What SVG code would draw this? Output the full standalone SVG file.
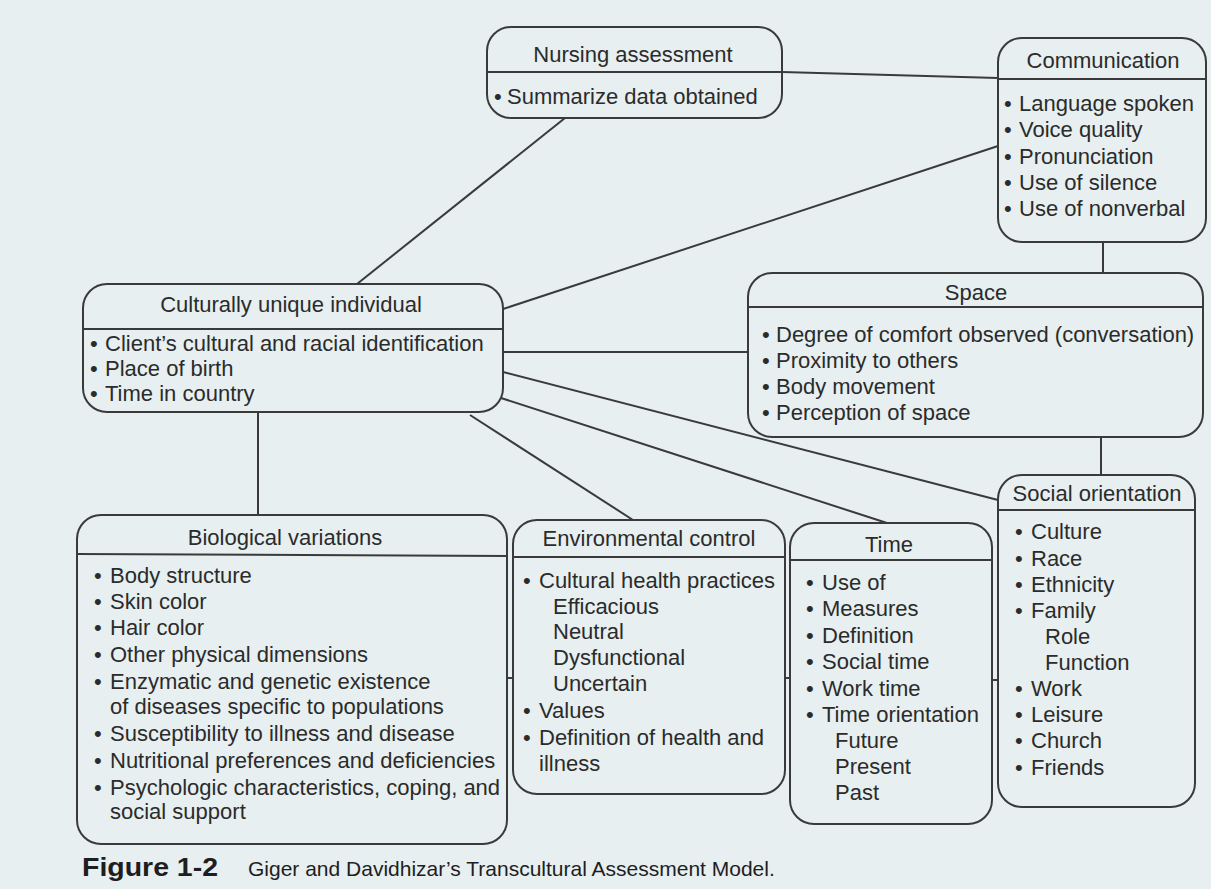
<svg xmlns="http://www.w3.org/2000/svg" width="1211" height="889" viewBox="0 0 1211 889">
<style>
.bg{fill:#e7eff0}
.box{fill:none;stroke:#3a3a3a;stroke-width:2}
.div{stroke:#3a3a3a;stroke-width:2}
.con{stroke:#3a3a3a;stroke-width:2;fill:none}
text{font-family:"Liberation Sans",Arial,sans-serif;fill:#2b2b2b;font-size:22px}
.t{text-anchor:middle}
.cap{font-size:21px;fill:#1e1e1e}
.capb{font-size:26px;font-weight:bold;fill:#1e1e1e}
</style>
<rect class="bg" x="0" y="0" width="1211" height="889"/>

<g id="connectors">
<line class="con" x1="565" y1="118" x2="357" y2="284"/>
<line class="con" x1="782" y1="72" x2="998" y2="78"/>
<line class="con" x1="998" y1="146" x2="503" y2="309"/>
<line class="con" x1="503" y1="352" x2="748" y2="352"/>
<line class="con" x1="503" y1="372" x2="998" y2="500"/>
<line class="con" x1="501" y1="398" x2="887" y2="523"/>
<line class="con" x1="470" y1="415" x2="633" y2="520"/>
<line class="con" x1="258" y1="412" x2="258" y2="515"/>
<line class="con" x1="1103" y1="242" x2="1103" y2="273"/>
<line class="con" x1="1101" y1="437" x2="1101" y2="475"/>
<line class="con" x1="507" y1="678" x2="513" y2="678"/>
<line class="con" x1="785" y1="678" x2="790" y2="678"/>
<line class="con" x1="992" y1="680" x2="998" y2="680"/>
</g>

<g id="nursing">
<rect class="box" x="487" y="27" width="295" height="91" rx="24"/>
<line class="div" x1="487" y1="72" x2="782" y2="72"/>
<text class="t" x="633" y="62">Nursing assessment</text>
<text x="494" y="104">•</text><text x="507" y="104">Summarize data obtained</text>
</g>

<g id="communication">
<rect class="box" x="998" y="38" width="208" height="204" rx="24"/>
<line class="div" x1="998" y1="79" x2="1206" y2="79"/>
<text class="t" x="1103" y="68">Communication</text>
<text x="1004" y="111">•</text><text x="1019" y="111">Language spoken</text>
<text x="1004" y="137">•</text><text x="1019" y="137">Voice quality</text>
<text x="1004" y="164">•</text><text x="1019" y="164">Pronunciation</text>
<text x="1004" y="190">•</text><text x="1019" y="190">Use of silence</text>
<text x="1004" y="216">•</text><text x="1019" y="216">Use of nonverbal</text>
</g>

<g id="culturally">
<rect class="box" x="83" y="284" width="420" height="128" rx="24"/>
<line class="div" x1="83" y1="329" x2="503" y2="329"/>
<text class="t" x="291" y="312">Culturally unique individual</text>
<text x="90" y="351">•</text><text x="105" y="351">Client’s cultural and racial identification</text>
<text x="90" y="376">•</text><text x="105" y="376">Place of birth</text>
<text x="90" y="401">•</text><text x="105" y="401">Time in country</text>
</g>

<g id="space">
<rect class="box" x="748" y="273" width="455" height="164" rx="24"/>
<line class="div" x1="748" y1="307" x2="1203" y2="307"/>
<text class="t" x="976" y="300">Space</text>
<text x="762" y="342">•</text><text x="776" y="342">Degree of comfort observed (conversation)</text>
<text x="762" y="368">•</text><text x="776" y="368">Proximity to others</text>
<text x="762" y="394">•</text><text x="776" y="394">Body movement</text>
<text x="762" y="420">•</text><text x="776" y="420">Perception of space</text>
</g>

<g id="social">
<rect class="box" x="998" y="475" width="197" height="332" rx="24"/>
<line class="div" x1="998" y1="510" x2="1195" y2="510"/>
<text class="t" x="1097" y="501">Social orientation</text>
<text x="1015" y="539">•</text><text x="1031" y="539">Culture</text>
<text x="1015" y="566">•</text><text x="1031" y="566">Race</text>
<text x="1015" y="592">•</text><text x="1031" y="592">Ethnicity</text>
<text x="1015" y="618">•</text><text x="1031" y="618">Family</text>
<text x="1045" y="644">Role</text>
<text x="1045" y="670">Function</text>
<text x="1015" y="696">•</text><text x="1031" y="696">Work</text>
<text x="1015" y="722">•</text><text x="1031" y="722">Leisure</text>
<text x="1015" y="748">•</text><text x="1031" y="748">Church</text>
<text x="1015" y="775">•</text><text x="1031" y="775">Friends</text>
</g>

<g id="biological">
<rect class="box" x="77" y="515" width="430" height="329" rx="24"/>
<line class="div" x1="77" y1="554" x2="507" y2="556"/>
<text class="t" x="285" y="545">Biological variations</text>
<text x="94" y="583">•</text><text x="110" y="583">Body structure</text>
<text x="94" y="609">•</text><text x="110" y="609">Skin color</text>
<text x="94" y="635">•</text><text x="110" y="635">Hair color</text>
<text x="94" y="662">•</text><text x="110" y="662">Other physical dimensions</text>
<text x="94" y="689">•</text><text x="110" y="689">Enzymatic and genetic existence</text>
<text x="110" y="714">of diseases specific to populations</text>
<text x="94" y="741">•</text><text x="110" y="741">Susceptibility to illness and disease</text>
<text x="94" y="768">•</text><text x="110" y="768">Nutritional preferences and deficiencies</text>
<text x="94" y="795">•</text><text x="110" y="795">Psychologic characteristics, coping, and</text>
<text x="110" y="819">social support</text>
</g>

<g id="environmental">
<rect class="box" x="513" y="520" width="272" height="274" rx="24"/>
<line class="div" x1="513" y1="557" x2="785" y2="557"/>
<text class="t" x="649" y="546">Environmental control</text>
<text x="523" y="588">•</text><text x="539" y="588">Cultural health practices</text>
<text x="553" y="614">Efficacious</text>
<text x="553" y="639">Neutral</text>
<text x="553" y="665">Dysfunctional</text>
<text x="553" y="691">Uncertain</text>
<text x="523" y="718">•</text><text x="539" y="718">Values</text>
<text x="523" y="745">•</text><text x="539" y="745">Definition of health and</text>
<text x="539" y="771">illness</text>
</g>

<g id="time">
<rect class="box" x="790" y="523" width="202" height="301" rx="24"/>
<line class="div" x1="790" y1="560" x2="992" y2="560"/>
<text class="t" x="889" y="552">Time</text>
<text x="806" y="590">•</text><text x="822" y="590">Use of</text>
<text x="806" y="616">•</text><text x="822" y="616">Measures</text>
<text x="806" y="643">•</text><text x="822" y="643">Definition</text>
<text x="806" y="669">•</text><text x="822" y="669">Social time</text>
<text x="806" y="696">•</text><text x="822" y="696">Work time</text>
<text x="806" y="722">•</text><text x="822" y="722">Time orientation</text>
<text x="835" y="748">Future</text>
<text x="835" y="774">Present</text>
<text x="835" y="800">Past</text>
</g>

<g id="caption">
<text class="capb" x="82" y="876" textLength="136" lengthAdjust="spacingAndGlyphs">Figure 1-2</text>
<text class="cap" x="248" y="876">Giger and Davidhizar’s Transcultural Assessment Model.</text>
</g>
</svg>
